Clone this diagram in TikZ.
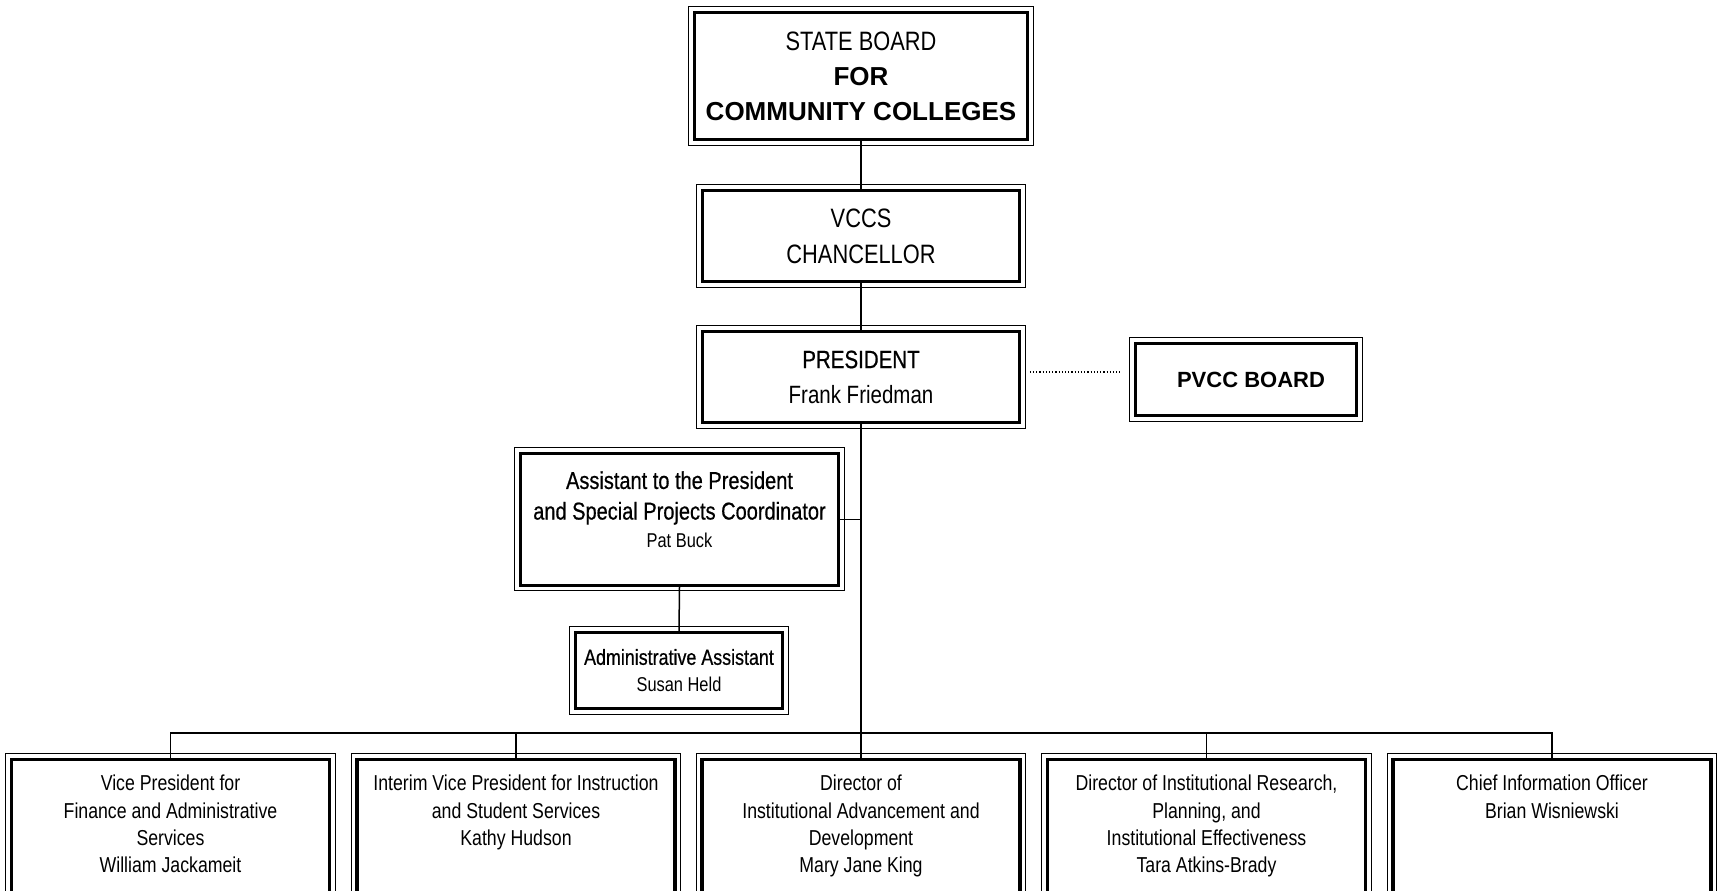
\documentclass[tikz,border=0pt]{standalone}
\usepackage{fontspec}
\setmainfont{Liberation Sans}
\newfontfamily\narrow[FakeStretch=0.82]{Liberation Sans}
\newfontfamily\narrowmed[FakeStretch=0.82,FakeBold=0.6]{Liberation Sans}
\usetikzlibrary{calc}
\newcommand{\bigbold}{\rmfamily\bfseries\fontsize{13}{17.5}\selectfont}
\newcommand{\toptext}[3]{\parbox[c][#1][t]{159pt}{\centering\vspace*{#2}#3}}

\begin{document}
\begin{tikzpicture}[x=0.5pt,y=-0.5pt,
    box/.style={draw, line width=1.75pt, align=center},
    tallbox/.style={draw, line width=1.75pt, inner sep=0pt, anchor=north},
    trunk/.style={line width=0.75pt},
    dotline/.style={line width=0.6pt, dash pattern=on 0.6pt off 1pt}]
    \path[use as bounding box] (0,0) rectangle (1719,890);
    \clip (0,0) rectangle (1719,890);
    % top of the chart
    \node[box, minimum width=166.5pt, minimum height=63.5pt,
      font=\narrow\fontsize{13.3}{17.5}\selectfont] (sbcc) at (861,76)
      {STATE BOARD\\{\bigbold FOR}\\{\bigbold COMMUNITY COLLEGES}};
    \node[box, minimum width=158.5pt, minimum height=45.5pt,
      font=\narrow\fontsize{13.3}{18}\selectfont] (vccs) at (861,236)
      {VCCS\\CHANCELLOR};
    \node[box, minimum width=158.5pt, minimum height=45.5pt,
      font=\narrow\fontsize{12.5}{17.5}\selectfont] (pres) at (861,377)
      {{\narrowmed PRESIDENT}\\Frank Friedman};
    \node[box, minimum width=110.5pt, minimum height=36pt,
      font=\bfseries\fontsize{11}{13}\selectfont] (pvcc) at (1246,379.5)
      {\hspace*{5pt}PVCC BOARD};
    % staff of the president
    \node[tallbox, font=\narrowmed\fontsize{12.2}{15.3}\selectfont] (asst) at (679.5,451.5)
      {\toptext{66pt}{9pt}{Assistant to the President\\and Special Projects Coordinator\\[-1.3pt]
       {\narrow\fontsize{10}{14}\selectfont Pat Buck}}};
    \node[box, minimum width=103.5pt, minimum height=38pt,
      font=\narrow\fontsize{10.9}{13.5}\selectfont] (admin) at (679,670.5)
      {{\narrowmed Administrative Assistant}\\{\fontsize{10}{13.5}\selectfont Susan Held}};
    % bottom row
    \node[tallbox, font=\narrow\fontsize{10.8}{13.65}\selectfont] (vpfin) at (170.5,757.5)
      {\toptext{90pt}{8pt}{Vice President for\\Finance and Administrative\\Services\\William Jackameit}};
    \node[tallbox, font=\narrow\fontsize{10.8}{13.65}\selectfont] (vpins) at (516,757.5)
      {\toptext{90pt}{8pt}{Interim Vice President for Instruction\\and Student Services\\Kathy Hudson}};
    \node[tallbox, font=\narrow\fontsize{10.8}{13.65}\selectfont] (dirdev) at (861,757.5)
      {\toptext{90pt}{8pt}{Director of\\Institutional Advancement and\\Development\\Mary Jane King}};
    \node[tallbox, font=\narrow\fontsize{10.8}{13.65}\selectfont] (dirres) at (1206.5,757.5)
      {\toptext{90pt}{8pt}{Director of Institutional Research,\\Planning, and\\Institutional Effectiveness\\Tara Atkins-Brady}};
    \node[tallbox, font=\narrow\fontsize{10.8}{13.65}\selectfont] (cio) at (1552,757.5)
      {\toptext{90pt}{8pt}{Chief Information Officer\\Brian Wisniewski}};
    % thin outer frames
    \foreach \n in {sbcc,vccs,pres,pvcc,asst,admin,vpfin,vpins,dirdev,dirres,cio}
    {
      \draw[line width=0.55pt] ([shift={(-1.95pt,1.95pt)}]\n.north west) rectangle ([shift={(1.95pt,-1.95pt)}]\n.south east);
    }
    % lines
    \coordinate (bus) at (861,733);
    \draw[trunk] (sbcc.south) -- (vccs.north);
    \draw[trunk] (vccs.south) -- (pres.north);
    \draw[trunk] (pres.south) -- (dirdev.north);
    \draw[trunk] (asst.east) -- (asst.east -| pres.south);
    \draw[trunk] (asst.south) -- (admin.north);
    \draw[trunk] (vpfin.north) |- (bus) -| (cio.north);
    \draw[trunk] (vpins.north) -- (vpins.north |- bus);
    \draw[trunk] (dirres.north) -- (dirres.north |- bus);
    \draw[dotline, shorten <=4.25pt, shorten >=6.75pt] ($(pres.east)+(0,2.5pt)$) -- ($(pres.east -| pvcc.west)+(0,2.5pt)$);
\end{tikzpicture}
\end{document}
